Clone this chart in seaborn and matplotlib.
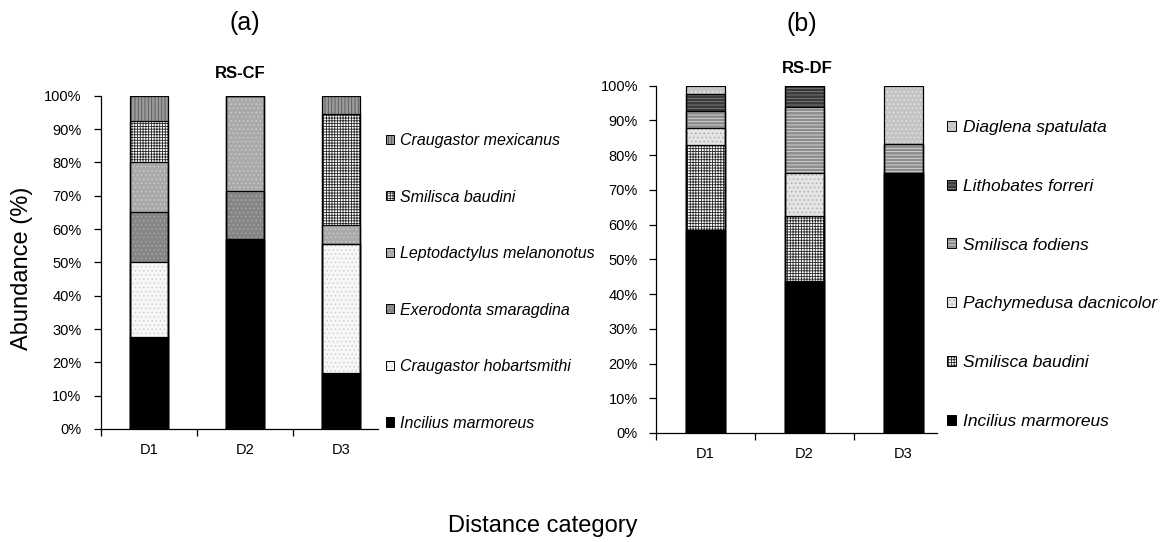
import numpy as np
import pandas as pd
import matplotlib
matplotlib.use("Agg")
import matplotlib.pyplot as plt
import seaborn as sns
from matplotlib.patches import Patch
from matplotlib.legend_handler import HandlerTuple
from matplotlib.ticker import PercentFormatter

# ---------------- data ----------------
categories = ["D1", "D2", "D3"]

# (a) RS-CF  (stack order bottom -> top)
cf_labels = ["Incilius marmoreus", "Craugastor hobartsmithi", "Exerodonta smaragdina",
             "Leptodactylus melanonotus", "Smilisca baudini", "Craugastor mexicanus"]
cf_incilius = [27.5, 57.1, 16.7]
cf_hobartsmithi = [22.5, 0.0, 38.9]
cf_exerodonta = [15.0, 14.3, 0.0]
cf_leptodactylus = [15.0, 28.6, 5.6]
cf_smilisca_baudini = [12.5, 0.0, 33.3]
cf_mexicanus = [7.5, 0.0, 5.5]

# (b) RS-DF  (stack order bottom -> top)
df_labels = ["Incilius marmoreus", "Smilisca baudini", "Pachymedusa dacnicolor",
             "Smilisca fodiens", "Lithobates forreri", "Diaglena spatulata"]
df_incilius = [58.5, 43.8, 75.0]
df_smilisca_baudini = [24.4, 18.7, 0.0]
df_pachymedusa = [4.9, 12.5, 0.0]
df_smilisca_fodiens = [4.9, 18.8, 8.3]
df_lithobates = [4.9, 6.2, 0.0]
df_diaglena = [2.4, 0.0, 16.7]

# ---------------- style ----------------
sns.set_style("ticks")
plt.rcParams["font.family"] = ["Liberation Sans", "DejaVu Sans"]
plt.rcParams["hatch.linewidth"] = 0.6
for key in ["text.color", "axes.labelcolor", "xtick.color", "ytick.color",
            "xtick.labelcolor", "ytick.labelcolor"]:
    plt.rcParams[key] = "black"

# (face, hatch, hatch colour)
cf_styles = [
    ("#000000", None, "#000000"),
    ("#f7f7f7", "." * 4, "#cfcfcf"),
    ("#858585", "." * 4, "#a8a8a8"),
    ("#a9a9a9", "." * 4, "#cacaca"),
    ("#ffffff", "+" * 6, "#2a2a2a"),
    ("#9a9a9a", "|" * 5, "#555555"),
]
df_styles = [
    ("#000000", None, "#000000"),
    ("#ffffff", "+" * 6, "#2a2a2a"),
    ("#e4e4e4", "." * 4, "#b0b0b0"),
    ("#8c8c8c", "-" * 5, "#dcdcdc"),
    ("#3a3a3a", "-" * 5, "#808080"),
    ("#c4c4c4", "." * 4, "#e4e4e4"),
]

W, H = 1169, 542
fig = plt.figure(figsize=(W / 100, H / 100), dpi=100)


def px_axes(x0, x1, ytop, ybot):
    return fig.add_axes([x0 / W, 1 - ybot / H, (x1 - x0) / W, (ybot - ytop) / H])


ax1 = px_axes(101, 378, 95.7, 429)
ax2 = px_axes(656, 937, 85.7, 433)


def draw_panel(ax, series, styles, width, xright, ypad):
    cum = np.cumsum(np.array(series, dtype=float), axis=0)
    n = len(series)
    for i in range(n - 1, -1, -1):
        face, hatch, hcol = styles[i]
        d = pd.DataFrame({"cat": categories, "top": cum[i]})
        sns.barplot(data=d, x="cat", y="top", order=categories, ax=ax, color=face,
                    saturation=1, width=width, errorbar=None, edgecolor=hcol,
                    linewidth=0, hatch=hatch)
    for i in range(n):
        d = pd.DataFrame({"cat": categories, "top": cum[i]})
        sns.barplot(data=d, x="cat", y="top", order=categories, ax=ax, color="black",
                    fill=False, width=width, errorbar=None, linewidth=0.9)
    ax.set_xlim(-0.5, xright)
    ax.set_ylim(0, 100)
    ax.set_xlabel("")
    ax.set_ylabel("")
    ax.set_yticks(np.arange(0, 101, 10))
    ax.yaxis.set_major_formatter(PercentFormatter(decimals=0))
    ax.set_xticks(range(len(categories)))
    ax.set_xticklabels(categories)
    ax.set_xticks([-0.5, 0.5, 1.5], minor=True)
    ax.tick_params(axis="x", which="major", length=0, pad=10, labelsize=10.5,
                   labelcolor="black")
    ax.tick_params(axis="x", which="minor", length=5, width=0.9, direction="out",
                   color="black")
    ax.tick_params(axis="y", length=5, width=0.9, direction="out", labelsize=10.5,
                   pad=ypad, color="black", labelcolor="black")
    for s in ["top", "right"]:
        ax.spines[s].set_visible(False)
    for s in ["left", "bottom"]:
        ax.spines[s].set_linewidth(0.9)
        ax.spines[s].set_color("black")


draw_panel(ax1, [cf_incilius, cf_hobartsmithi, cf_exerodonta, cf_leptodactylus,
                 cf_smilisca_baudini, cf_mexicanus], cf_styles, 0.40, 2.385, 9.0)
draw_panel(ax2, [df_incilius, df_smilisca_baudini, df_pachymedusa, df_smilisca_fodiens,
                 df_lithobates, df_diaglena], df_styles, 0.40, 2.34, 8.0)


def make_legend(labels, styles, x, ytop, spacing, size):
    handles = []
    for face, hatch, hcol in styles:
        fillp = Patch(facecolor=face, edgecolor=hcol, hatch=hatch, linewidth=0)
        edge = Patch(facecolor="none", edgecolor="black", linewidth=0.7)
        handles.append((fillp, edge))
    leg = fig.legend(handles[::-1], labels[::-1], loc="upper left",
                     bbox_to_anchor=(x / W, 1 - ytop / H), frameon=False,
                     prop={"style": "italic", "size": size}, handlelength=0.5,
                     handleheight=0.5, handletextpad=0.4, labelspacing=spacing,
                     borderpad=0, borderaxespad=0, labelcolor="black",
                     handler_map={tuple: HandlerTuple(ndivide=1, pad=0)})
    return leg


make_legend(cf_labels, cf_styles, 386, 133, 2.60, 11.5)
make_legend(df_labels, df_styles, 947, 120, 2.52, 12.5)

fig.text(245 / W, 1 - 23 / H, "(a)", ha="center", va="center", fontsize=18)
fig.text(240 / W, 1 - 74 / H, "RS-CF", ha="center", va="center", fontsize=12, fontweight="bold")
fig.text(802 / W, 1 - 24 / H, "(b)", ha="center", va="center", fontsize=18)
fig.text(807 / W, 1 - 69 / H, "RS-DF", ha="center", va="center", fontsize=12, fontweight="bold")
fig.text(22 / W, 1 - 268 / H, "Abundance (%)", rotation=90, ha="center", va="center", fontsize=17)
fig.text(543 / W, 1 - 532 / H, "Distance category", ha="center", va="baseline", fontsize=17)

fig.savefig("out.png", dpi=100, facecolor="white")
